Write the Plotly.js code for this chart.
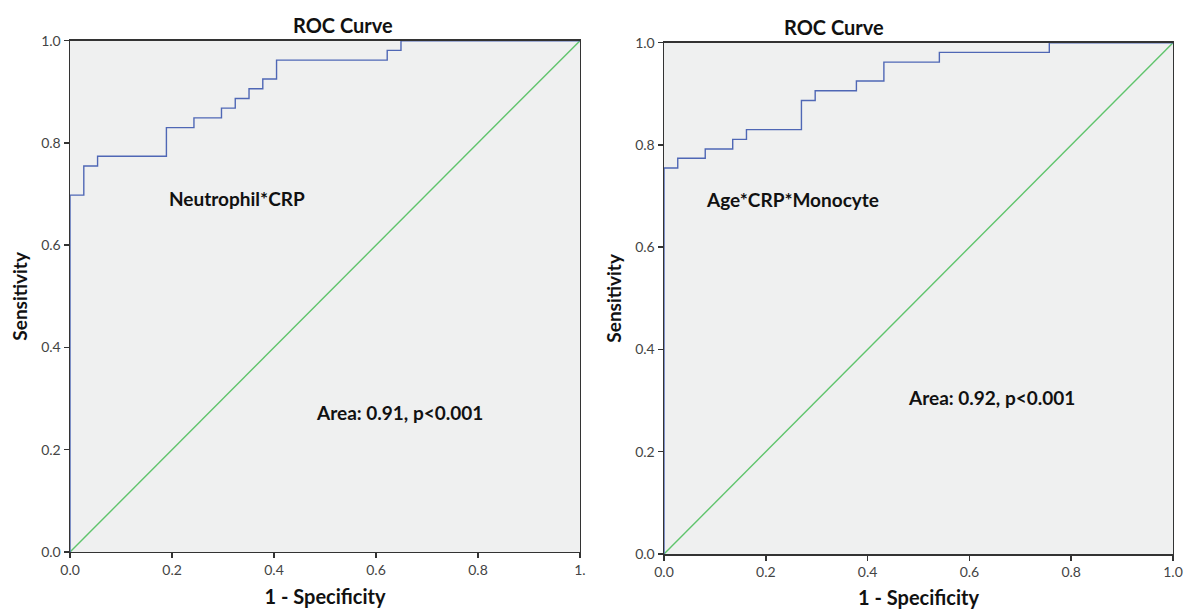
<!DOCTYPE html>
<html>
<head>
<meta charset="utf-8">
<script src="https://cdn.plot.ly/plotly-3.0.1.min.js"></script>
<style>html,body{margin:0;padding:0;background:#fff;}#chart{width:1187px;height:609px;}</style>
</head>
<body>
<div id="chart"></div>
<script>
// Left panel: Neutrophil*CRP ROC curve
const leftFPR  = [0, 0, 0.027, 0.054, 0.189, 0.243, 0.297, 0.324, 0.351, 0.378, 0.405, 0.622, 0.649, 1.0];
const leftSens = [0, 0.698, 0.755, 0.774, 0.830, 0.849, 0.868, 0.887, 0.906, 0.925, 0.962, 0.981, 1.0, 1.0];
// Right panel: Age*CRP*Monocyte ROC curve
const rightFPR  = [0, 0, 0.027, 0.081, 0.135, 0.162, 0.270, 0.297, 0.378, 0.432, 0.541, 0.757, 1.0];
const rightSens = [0, 0.755, 0.774, 0.792, 0.811, 0.830, 0.887, 0.906, 0.925, 0.962, 0.981, 1.0, 1.0];
// Reference diagonal
const diag = [0, 1];

const tickVals = [0, 0.2, 0.4, 0.6, 0.8, 1.0];
const leftXTickText  = ["0.0", "0.2", "0.4", "0.6", "0.8", "1."];
const rightXTickText = ["0.0", "0.2", "0.4", "0.6", "0.8", "1.0"];
const yTickText = ["0.0", "0.2", "0.4", "0.6", "0.8", "1.0"];

const titles = ["ROC Curve", "ROC Curve"];
const xTitle = "1 - Specificity";
const yTitle = "Sensitivity";
const labels = ["Neutrophil*CRP", "Age*CRP*Monocyte"];
const areas = ["Area: 0.91, p<0.001", "Area: 0.92, p<0.001"];

const BLUE = "#4f67b5", GREEN = "#5fc46c";
const FONT = "Lato, 'Open Sans', sans-serif";

const traces = [
  {x: diag, y: diag, xaxis: 'x', yaxis: 'y', mode: 'lines', line: {color: GREEN, width: 1.4}, hoverinfo: 'skip'},
  {x: leftFPR, y: leftSens, xaxis: 'x', yaxis: 'y', mode: 'lines', line: {color: BLUE, width: 1.4, shape: 'hv'}},
  {x: diag, y: diag, xaxis: 'x2', yaxis: 'y2', mode: 'lines', line: {color: GREEN, width: 1.4}, hoverinfo: 'skip'},
  {x: rightFPR, y: rightSens, xaxis: 'x2', yaxis: 'y2', mode: 'lines', line: {color: BLUE, width: 1.4, shape: 'hv'}}
];

function xax(domain, anchor, ticktext) {
  return {
    domain: domain, anchor: anchor, range: [0, 1], fixedrange: true,
    tickvals: tickVals, ticktext: ticktext, ticks: 'outside', ticklen: 5, tickwidth: 1.5, tickcolor: '#333',
    showline: true, linecolor: '#333', linewidth: 1.5, mirror: true, showgrid: false, zeroline: false,
    tickfont: {family: FONT, size: 14, color: '#444'},
    title: {text: '<b>' + xTitle + '</b>', font: {family: FONT, size: 20, color: '#111'}, standoff: 12}
  };
}
function yax(domain, anchor) {
  return {
    domain: domain, anchor: anchor, range: [0, 1], fixedrange: true,
    tickvals: tickVals, ticktext: yTickText, ticks: 'outside', ticklen: 5, tickwidth: 1.5, tickcolor: '#333',
    showline: true, linecolor: '#333', linewidth: 1.5, mirror: true, showgrid: false, zeroline: false,
    tickfont: {family: FONT, size: 14, color: '#444'},
    title: {text: '<b>' + yTitle + '</b>', font: {family: FONT, size: 19, color: '#111'}, standoff: 8}
  };
}

const annFont = {family: FONT, size: 19, color: '#111'};
const titleFont = {family: FONT, size: 20, color: '#111'};
const layout = {
  width: 1187, height: 609,
  margin: {l: 0, r: 0, t: 0, b: 0},
  paper_bgcolor: '#ffffff', plot_bgcolor: '#eff0f0',
  showlegend: false,
  xaxis: xax([0.059, 0.4886], 'y', leftXTickText),
  yaxis: yax([0.0936, 0.9332], 'x'),
  xaxis2: xax([0.5594, 0.9882], 'y2', rightXTickText),
  yaxis2: yax([0.0903, 0.9299], 'x2'),
  annotations: [
    {xref: 'paper', yref: 'paper', x: 291/1187, y: 1 - 25/609, yanchor: 'middle', text: '<b>' + titles[0] + '</b>', showarrow: false, font: titleFont},
    {xref: 'paper', yref: 'paper', x: 886/1187, y: 1 - 27/609, yanchor: 'middle', text: '<b>' + titles[1] + '</b>', showarrow: false, font: titleFont},
    {xref: 'x', yref: 'y', x: 0.327, y: 0.692, yanchor: 'middle', text: '<b>' + labels[0] + '</b>', showarrow: false, font: annFont},
    {xref: 'x', yref: 'y', x: 0.647, y: 0.272, yanchor: 'middle', text: '<b>' + areas[0] + '</b>', showarrow: false, font: annFont},
    {xref: 'x2', yref: 'y2', x: 0.253, y: 0.694, yanchor: 'middle', text: '<b>' + labels[1] + '</b>', showarrow: false, font: annFont},
    {xref: 'x2', yref: 'y2', x: 0.644, y: 0.307, yanchor: 'middle', text: '<b>' + areas[1] + '</b>', showarrow: false, font: annFont}
  ]
};

Plotly.newPlot('chart', traces, layout, {displayModeBar: false, staticPlot: true});
</script>
</body>
</html>
